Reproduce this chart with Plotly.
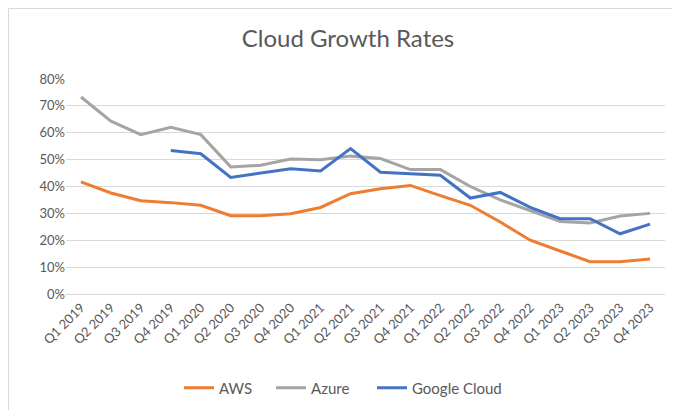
import plotly.graph_objects as go

quarters = ["Q1 2019", "Q2 2019", "Q3 2019", "Q4 2019",
            "Q1 2020", "Q2 2020", "Q3 2020", "Q4 2020",
            "Q1 2021", "Q2 2021", "Q3 2021", "Q4 2021",
            "Q1 2022", "Q2 2022", "Q3 2022", "Q4 2022",
            "Q1 2023", "Q2 2023", "Q3 2023", "Q4 2023"]

aws = [0.417, 0.376, 0.347, 0.340, 0.330, 0.291, 0.291, 0.299, 0.322, 0.373,
       0.392, 0.404, 0.366, 0.330, 0.268, 0.200, 0.160, 0.120, 0.120, 0.130]
azure = [0.733, 0.643, 0.593, 0.620, 0.593, 0.473, 0.479, 0.502, 0.500, 0.513,
         0.504, 0.463, 0.463, 0.400, 0.350, 0.310, 0.270, 0.264, 0.290, 0.300]
google = [None, None, None, 0.534, 0.522, 0.434, 0.451, 0.466, 0.458, 0.541,
          0.453, 0.447, 0.442, 0.357, 0.378, 0.322, 0.280, 0.280, 0.224, 0.260]

series = [("AWS", aws, "#ED7D31"), ("Azure", azure, "#A5A5A5"), ("Google Cloud", google, "#4472C4")]

font_family = "Lato, 'Noto Sans', sans-serif"

W, H = 680, 410
ml, mr, mt, mb = 58, 23, 71, 124
pw, ph = W - ml - mr, H - mt - mb

legend_ids = ["legend", "legend2", "legend3"]
legend_left_px = [171, 263, 364]

fig = go.Figure()
for (name, vals, color), lid in zip(series, legend_ids):
    fig.add_trace(go.Scatter(x=quarters, y=vals, name=name, mode="lines",
                             line=dict(color=color, width=3), connectgaps=False,
                             legend=lid, showlegend=True))

legend_y = (H - 380 - mb) / ph
legend_layouts = {}
for lid, lx in zip(legend_ids, legend_left_px):
    legend_layouts[lid] = dict(orientation="h", x=(lx - ml) / pw, xanchor="left",
                               y=legend_y, yanchor="middle",
                               font=dict(size=15, color="#595959"),
                               bgcolor="rgba(0,0,0,0)")

fig.update_layout(
    width=W, height=H,
    showlegend=True,
    margin=dict(l=ml, r=mr, t=mt, b=mb),
    paper_bgcolor="white", plot_bgcolor="white",
    font=dict(family=font_family, color="#595959"),
    title=dict(text="Cloud Growth Rates", x=0.5, xanchor="center", y=1 - 31 / H, yanchor="middle",
               font=dict(size=24, color="#595959", family=font_family)),
    xaxis=dict(type="category", range=[-0.5, len(quarters) - 0.5], tickangle=-45,
               showgrid=False, showline=True, linecolor="#d9d9d9", linewidth=1,
               tickfont=dict(size=13, color="#595959"), ticks=""),
    yaxis=dict(range=[0, 0.8], dtick=0.1, tickformat=".0%", showgrid=True, gridcolor="#d9d9d9",
               gridwidth=1, zeroline=False, showline=False, ticks="",
               tickfont=dict(size=13, color="#595959")),
    shapes=[dict(type="rect", xref="paper", yref="paper",
                 x0=(0.5 - ml) / pw, x1=(W - 0.5 - ml) / pw,
                 y0=-(mb - 0.5) / ph, y1=1 + (mt - 0.5) / ph,
                 line=dict(color="#d9d9d9", width=1), layer="below")],
    **legend_layouts,
)

fig.write_html("out.html")
